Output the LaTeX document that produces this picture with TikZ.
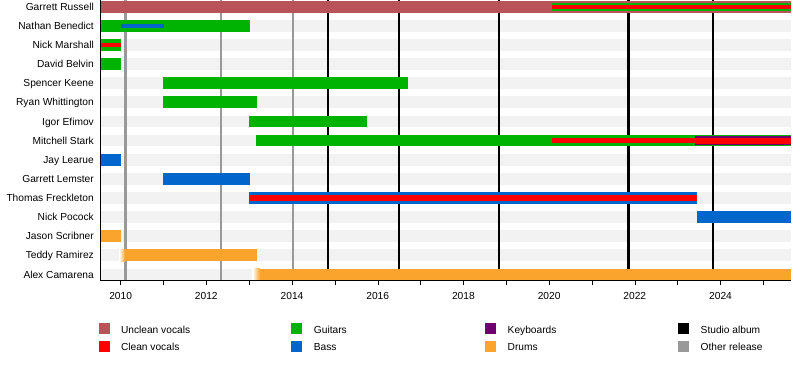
\documentclass[tikz,border=0pt]{standalone}
\usepackage{fontspec}
\setmainfont{Liberation Sans}
\usepackage{tikz}
\usetikzlibrary{positioning}

\definecolor{unclean}{RGB}{185,83,90}
\definecolor{clean}{RGB}{255,0,0}
\definecolor{guitars}{RGB}{0,179,0}
\definecolor{bass}{RGB}{0,102,204}
\definecolor{keys}{RGB}{112,0,112}
\definecolor{drums}{RGB}{250,164,45}
\definecolor{studio}{RGB}{0,0,0}
\definecolor{other}{RGB}{153,153,153}
\definecolor{stripe}{RGB}{242,242,242}

% year -> x, row -> y (1pt = 1px)
\newcommand{\yx}[1]{120.6+42.85*(#1-2010)}
\newcommand{\ry}[1]{6.7+19.12*#1}
% row, from, to, height, colour
\newcommand{\band}[5]{\fill[#5] ({\yx{#2}},{\ry{#1}-#4/2}) rectangle ({\yx{#3}},{\ry{#1}+#4/2});}

\begin{document}
\begin{tikzpicture}[
    x=1pt, y=-1pt,
    font=\fontsize{10.2}{12}\selectfont,
    member/.style={anchor=base east, inner sep=0pt},
    yearlabel/.style={anchor=base, inner sep=0pt},
    keytext/.style={anchor=base west, inner sep=0pt},
    release/.style={line width=2.8pt},
  ]
  \useasboundingbox (0,0) rectangle (800,370);

  % ---------------- Row stripes ----------------
  \foreach \r in {1,...,14}
    \fill[stripe] (100,{\ry{\r}-5.85}) rectangle (791,{\ry{\r}+5.85});

  % ---------------- Releases ----------------
  \foreach \x in {125.5, 221, 293} \draw[release, other] (\x,0) -- (\x,280.5);
  \foreach \x in {328, 399, 499, 628.5, 713} \draw[release, studio] (\x,0) -- (\x,280.5);

  % ---------------- Bars ----------------
  \foreach \r/\a/\b/\h/\c in {
      0/2009.52/2025.645/11.7/unclean, 0/2020.06/2025.645/8.3/guitars, 0/2020.06/2025.645/4/clean,
      1/2009.52/2013.02/11.7/guitars, 1/2010.0/2011.02/3.4/bass,
      2/2009.52/2010.0/11.7/guitars, 2/2009.52/2010.0/4/clean,
      3/2009.52/2010.0/11.7/guitars,
      4/2010.99/2016.71/11.7/guitars,
      5/2010.99/2013.18/11.7/guitars,
      6/2012.99/2015.75/11.7/guitars,
      7/2013.16/2025.645/11.7/guitars, 7/2020.06/2025.645/4.4/clean,
      7/2023.41/2025.645/9/keys, 7/2023.41/2025.645/6/clean,
      8/2009.52/2010.0/11.7/bass,
      9/2010.99/2013.02/11.7/bass,
      10/2013.0/2023.45/11.7/bass, 10/2013.0/2023.45/6.6/clean,
      11/2023.45/2025.645/11.7/bass,
      12/2009.52/2010.0/11.7/drums,
      13/2010.1/2013.18/11.7/drums,
      14/2013.25/2025.645/11.7/drums}
    \band{\r}{\a}{\b}{\h}{\c}
  % soft left edges of the drum bars
  \shade[left color=white, right color=drums] ({\yx{2009.97}},{\ry{13}-5.85}) rectangle ({\yx{2010.1}},{\ry{13}+5.85});
  \shade[left color=white, right color=drums] ({\yx{2013.08}},{\ry{14}-5.85}) rectangle ({\yx{2013.25}},{\ry{14}+5.85});

  % ---------------- Names ----------------
  \foreach \r/\who in {0/Garrett Russell, 1/Nathan Benedict, 2/Nick Marshall, 3/David Belvin,
      4/Spencer Keene, 5/Ryan Whittington, 6/Igor Efimov, 7/Mitchell Stark, 8/Jay Learue,
      9/Garrett Lemster, 10/Thomas Freckleton, 11/Nick Pocock, 12/Jason Scribner,
      13/Teddy Ramirez, 14/Alex Camarena}
    \node[member] (name\r) at (94,{\ry{\r}+3.65}) {\who};

  % ---------------- Axes ----------------
  \draw (100,0) -- (100,280.5) -- (791,280.5);
  \foreach \t in {2010,...,2025} \draw ({\yx{\t}},280.5) -- ({\yx{\t}},285);
  \foreach \t in {2010,2012,...,2024}
    \node[yearlabel] (y\t) at ({\yx{\t}},299) {\t};

  % ---------------- Legend ----------------
  \foreach \x/\y/\c/\txt in {98.5/323.3/unclean/Unclean vocals, 98.5/340.6/clean/Clean vocals,
      291.4/323.3/guitars/Guitars, 291.4/340.6/bass/Bass,
      485.2/323.3/keys/Keyboards, 485.2/340.6/drums/Drums,
      678.2/323.3/studio/Studio album, 678.2/340.6/other/Other release} {
    \fill[\c] (\x,\y) rectangle ++(11,11);
    \node[keytext] (key-\c) at (\x+22.3,\y+10) {\txt};
  }
\end{tikzpicture}
\end{document}
